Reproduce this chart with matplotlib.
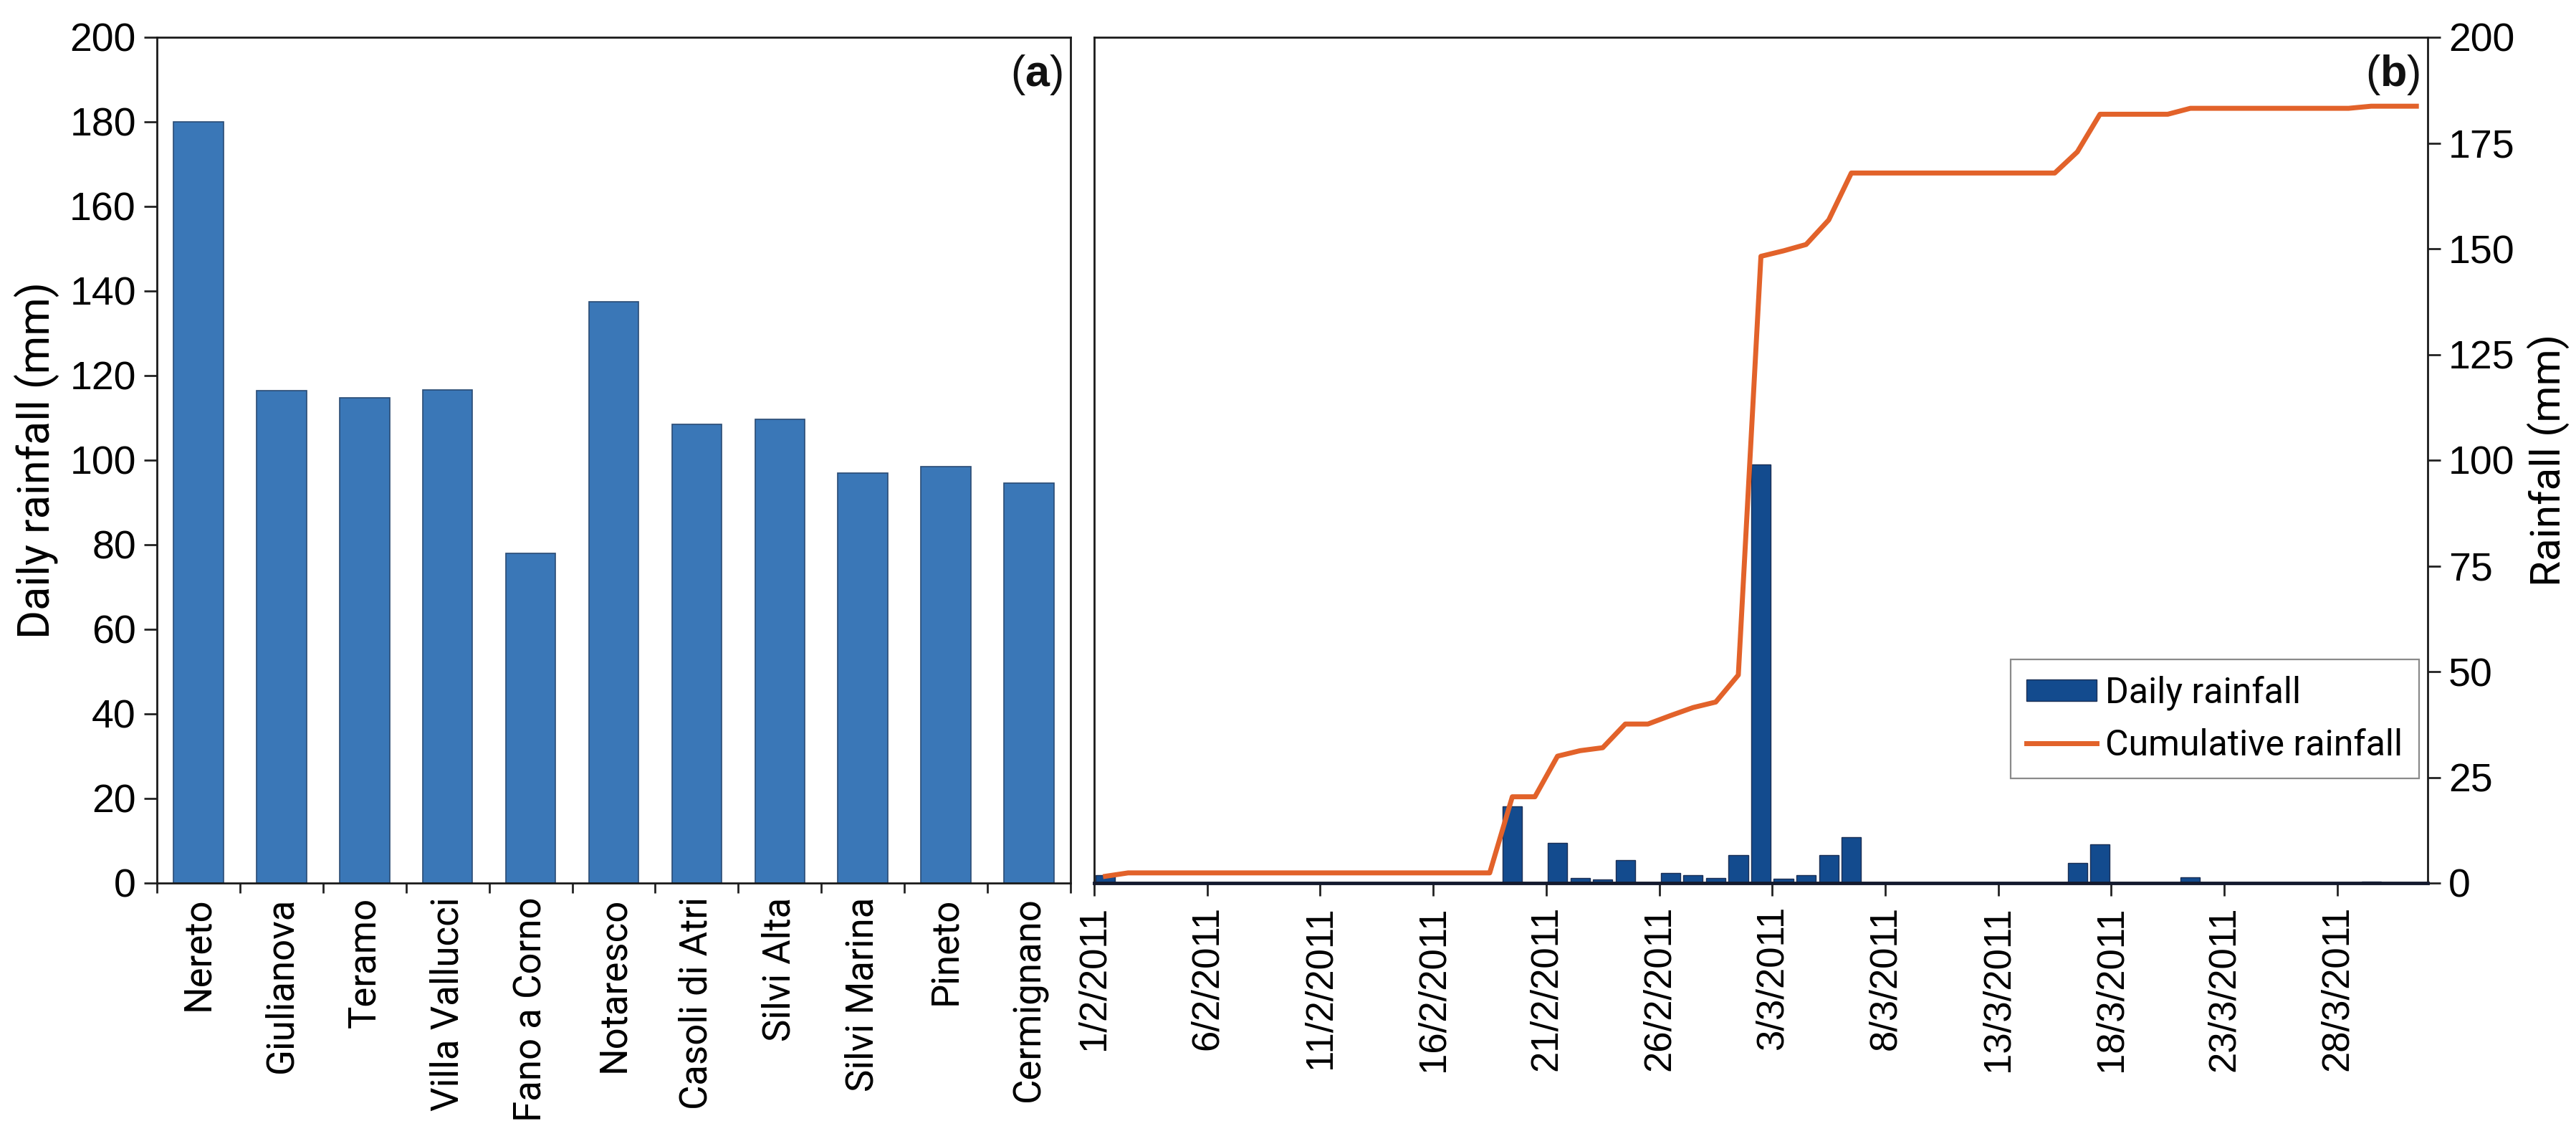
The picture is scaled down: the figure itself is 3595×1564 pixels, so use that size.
import matplotlib
matplotlib.use("Agg")
import matplotlib.pyplot as plt
import matplotlib.dates as mdates
from matplotlib import font_manager
from matplotlib.patches import Patch
from matplotlib.lines import Line2D
import numpy as np
import pandas as pd

# ---------------- data ----------------
stations = ["Nereto", "Giulianova", "Teramo", "Villa Vallucci", "Fano a Corno",
            "Notaresco", "Casoli di Atri", "Silvi Alta", "Silvi Marina",
            "Pineto", "Cermignano"]
station_rain = [180.0, 116.5, 114.7, 116.6, 78.0, 137.5, 108.5, 109.7, 97.0, 98.5, 94.6]

start_date = "2011-02-01"
daily_rain = [1.8, 0, 0, 0, 0, 0, 0, 0, 0, 0,
              0, 0, 0, 0, 0, 0, 0, 0, 18.1, 0,
              9.5, 1.2, 0.8, 5.5, 0, 2.3, 1.9, 1.2, 6.6, 99.0,
              1.1, 1.9, 6.6, 10.9, 0, 0, 0, 0, 0, 0,
              0, 0, 0, 4.7, 9.2, 0, 0, 0, 1.4, 0,
              0, 0, 0, 0, 0, 0, 0.3, 0, 0]
cumulative_rain = [1.6, 2.4, 2.4, 2.4, 2.4, 2.4, 2.4, 2.4, 2.4, 2.4,
                   2.4, 2.4, 2.4, 2.4, 2.4, 2.4, 2.4, 2.4, 20.4, 20.4,
                   30.0, 31.3, 32.0, 37.6, 37.6, 39.6, 41.5, 42.8, 49.2, 148.2,
                   149.5, 151.0, 156.8, 167.9, 167.9, 167.9, 167.9, 167.9, 167.9, 167.9,
                   167.9, 167.9, 167.9, 172.9, 181.8, 181.8, 181.8, 181.8, 183.2, 183.2,
                   183.2, 183.2, 183.2, 183.2, 183.2, 183.2, 183.7, 183.7, 183.7]
date_tick_labels = ["1/2/2011", "6/2/2011", "11/2/2011", "16/2/2011", "21/2/2011",
                    "26/2/2011", "3/3/2011", "8/3/2011", "13/3/2011", "18/3/2011",
                    "23/3/2011", "28/3/2011"]
end_date = "2011-04-01"

# ---------------- fonts ----------------
available = {f.name for f in font_manager.fontManager.ttflist}
TICK_FONT = "Liberation Sans" if "Liberation Sans" in available else "DejaVu Sans"
LABEL_FONT = "Roboto" if "Roboto" in available else TICK_FONT

plt.rcParams["mathtext.fontset"] = "custom"
plt.rcParams["mathtext.rm"] = TICK_FONT
plt.rcParams["mathtext.bf"] = TICK_FONT + ":bold"

BAR_A = "#3a77b7"
BAR_A_EDGE = "#2a4b74"
BAR_B = "#134b8e"
BAR_B_EDGE = "#1b2f55"
LINE_C = "#e2622a"

fig = plt.figure(figsize=(35.95, 15.64), dpi=100)
H = 1564.0
W = 3595.0
bottom = 1 - 1232 / H
height = (1232 - 52) / H
axA = fig.add_axes([219 / W, bottom, (1494 - 219) / W, height])
axB = fig.add_axes([1527 / W, bottom, (3388 - 1527) / W, height])

# ---------------- panel (a) ----------------
xa = np.arange(len(stations))
axA.bar(xa, station_rain, width=0.6, color=BAR_A, edgecolor=BAR_A_EDGE, linewidth=1.2, zorder=2)
axA.set_xlim(-0.5, len(stations) - 0.5)
axA.set_ylim(0, 200)
axA.set_yticks(np.arange(0, 201, 20))
axA.set_xticks(xa)
axA.set_xticklabels(stations, rotation=90, fontfamily=LABEL_FONT, fontsize=38)
axA.set_xticks(np.arange(-0.5, len(stations), 1.0), minor=True)
axA.tick_params(axis="x", which="major", length=0, pad=14)
axA.tick_params(axis="x", which="minor", length=10, width=2, direction="out", color="#222222")
axA.tick_params(axis="y", which="major", length=13, width=2, direction="out", pad=8,
                labelsize=40, color="#222222")
for lab in axA.get_yticklabels():
    lab.set_fontfamily(TICK_FONT)
axA.set_ylabel("Daily rainfall (mm)", fontfamily=LABEL_FONT, fontsize=44, labelpad=10)
for s in axA.spines.values():
    s.set_linewidth(2.0)
    s.set_color("#1a1a1a")
axA.annotate("(" + r"$\mathbf{a}$" + ")", xy=(1, 1), xycoords="axes fraction",
             xytext=(-8, -16), textcoords="offset points", ha="right", va="top",
             fontsize=44, fontfamily=TICK_FONT, color="#111111")

# ---------------- panel (b) ----------------
dates = pd.date_range(start_date, periods=len(daily_rain), freq="D")
xd = mdates.date2num(dates.to_pydatetime()) + 0.5
axB.bar(xd, daily_rain, width=0.86, color=BAR_B, edgecolor=BAR_B_EDGE, linewidth=1.0, zorder=2)
axB.plot(xd, cumulative_rain, color=LINE_C, linewidth=5, zorder=3, solid_joinstyle="round")
x0 = mdates.date2num(pd.Timestamp(start_date).to_pydatetime())
x1 = mdates.date2num(pd.Timestamp(end_date).to_pydatetime())
axB.set_xlim(x0, x1)
axB.set_ylim(0, 200)
tick_pos = mdates.date2num(pd.to_datetime(date_tick_labels, format="%d/%m/%Y").to_pydatetime())
axB.set_xticks(tick_pos)
axB.set_xticklabels(date_tick_labels, rotation=90, fontfamily=TICK_FONT, fontsize=38)
axB.tick_params(axis="x", length=13, width=2, direction="out", pad=10, color="#222222")
axB.yaxis.tick_right()
axB.yaxis.set_label_position("right")
axB.set_yticks(np.arange(0, 201, 25))
axB.tick_params(axis="y", length=13, width=2, direction="out", pad=8, labelsize=40, color="#222222")
for lab in axB.get_yticklabels():
    lab.set_fontfamily(TICK_FONT)
axB.set_ylabel("Rainfall (mm)", fontfamily=LABEL_FONT, fontsize=42, labelpad=12)
for s in axB.spines.values():
    s.set_linewidth(2.0)
    s.set_color("#1a1a1a")
axB.spines["bottom"].set_linewidth(3.5)
axB.spines["bottom"].set_color("#141a2e")
axB.annotate("(" + r"$\mathbf{b}$" + ")", xy=(1, 1), xycoords="axes fraction",
             xytext=(-8, -16), textcoords="offset points", ha="right", va="top",
             fontsize=44, fontfamily=TICK_FONT, color="#111111")

handles = [Patch(facecolor=BAR_B, edgecolor=BAR_B_EDGE, label="Daily rainfall"),
           Line2D([0], [0], color=LINE_C, linewidth=5, label="Cumulative rainfall")]
leg = axB.legend(handles=handles, loc="upper right", bbox_to_anchor=(0.9936, 0.2646),
                 prop={"family": LABEL_FONT, "size": 36}, frameon=True, fancybox=False,
                 borderpad=0.45, labelspacing=0.5, handlelength=1.95, handleheight=0.55,
                 handletextpad=0.25, borderaxespad=0)
leg.get_frame().set_edgecolor("#8a8a8a")
leg.get_frame().set_linewidth(1.6)
leg.get_frame().set_alpha(1)

fig.savefig("out.png", dpi=100, facecolor="white")
